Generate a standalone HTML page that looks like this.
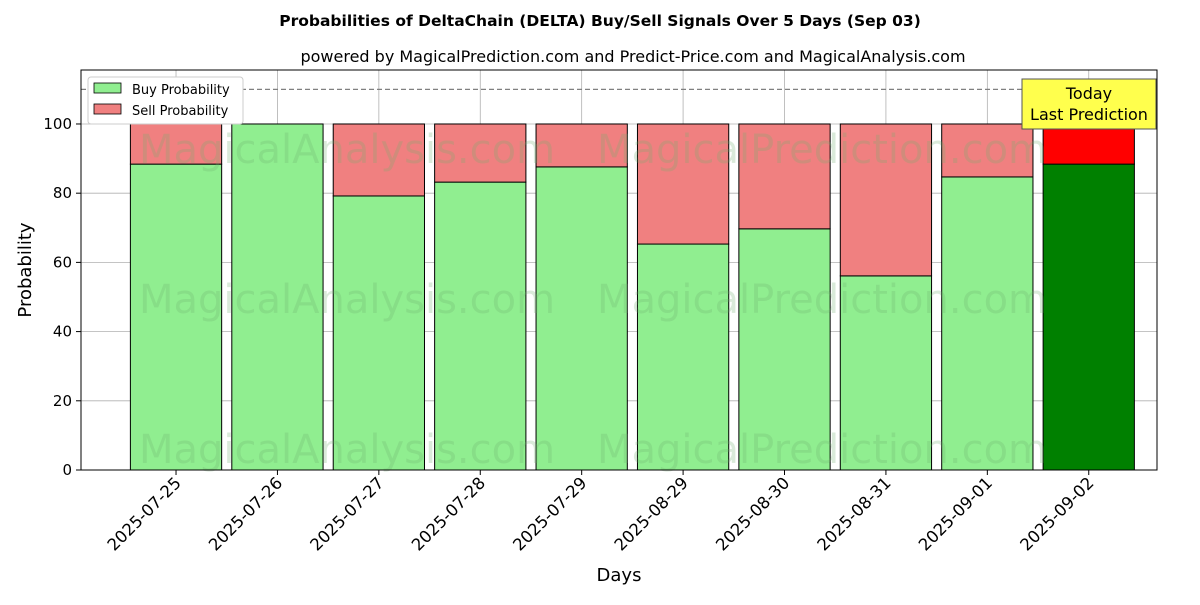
<!DOCTYPE html>
<html><head><meta charset="utf-8"><style>
body{margin:0;background:#fff;}
svg text{font-family:"DejaVu Sans","Liberation Sans",sans-serif;}
</style></head><body>
<svg id="chart" width="1200" height="600" xmlns="http://www.w3.org/2000/svg">
<rect width="1200" height="600" fill="#fff"/>
<text x="600" y="26" text-anchor="middle" font-size="15.5" font-weight="bold">Probabilities of DeltaChain (DELTA) Buy/Sell Signals Over 5 Days (Sep 03)</text>
<text x="633" y="62" text-anchor="middle" font-size="16">powered by MagicalPrediction.com and Predict-Price.com and MagicalAnalysis.com</text>
<g id="grid"></g>
<g id="bars"></g>
<g id="wm" fill="#70b070" opacity="0.25" font-size="40">
<text x="347" y="163" text-anchor="middle">MagicalAnalysis.com</text>
<text x="822" y="163" text-anchor="middle">MagicalPrediction.com</text>
<text x="347" y="313" text-anchor="middle">MagicalAnalysis.com</text>
<text x="822" y="313" text-anchor="middle">MagicalPrediction.com</text>
<text x="347" y="463" text-anchor="middle">MagicalAnalysis.com</text>
<text x="822" y="463" text-anchor="middle">MagicalPrediction.com</text>
</g>
<line id="thr" x1="81" x2="1157" stroke="#808080" stroke-width="1.2" stroke-dasharray="5,3"/>
<g id="axes"></g>
<rect x="81" y="70" width="1076" height="400" fill="none" stroke="#000" stroke-width="1"/>
<g>
<rect x="88" y="77" width="155" height="47" fill="#fff" stroke="#ccc" rx="3"/>
<rect x="94" y="83" width="27" height="10" fill="#90ee90" stroke="#000" stroke-width="0.8"/>
<text x="132" y="94" font-size="13">Buy Probability</text>
<rect x="94" y="104" width="27" height="10" fill="#f08080" stroke="#000" stroke-width="0.8"/>
<text x="132" y="115" font-size="13">Sell Probability</text>
</g>
<g>
<rect x="1022" y="79" width="134" height="50" fill="#ffff4d" stroke="#555"/>
<text x="1089" y="99" text-anchor="middle" font-size="16">Today</text>
<text x="1089" y="120" text-anchor="middle" font-size="16">Last Prediction</text>
</g>
<text transform="translate(31,270) rotate(-90)" text-anchor="middle" font-size="18">Probability</text>
<text x="619" y="581" text-anchor="middle" font-size="18">Days</text>
</svg>
<script>
const categories=["2025-07-25","2025-07-26","2025-07-27","2025-07-28","2025-07-29","2025-08-29","2025-08-30","2025-08-31","2025-09-01","2025-09-02"];
const buyValues=[88.4,100,79.2,83.2,87.6,65.3,69.7,56.1,84.7,88.4];
const sellValues=[11.6,0,20.8,16.8,12.4,34.7,30.3,43.9,15.3,11.6];
const yTicks=[0,20,40,60,80,100];
const threshold=110;
const NS="http://www.w3.org/2000/svg";
const L=81,R=1157,T=70,B=470,yMax=115.6;
const y=v=>B-v/yMax*(B-T);
const xStep=(R-L)/10.61;
const x=i=>L+(i+0.937)*xStep;
const bw=0.9*xStep;
function mk(tag,attrs,parent){const e=document.createElementNS(NS,tag);for(const k in attrs)e.setAttribute(k,attrs[k]);parent.appendChild(e);return e;}
const grid=document.getElementById('grid'),bars=document.getElementById('bars'),axes=document.getElementById('axes');
document.getElementById('thr').setAttribute('y1',y(threshold));
document.getElementById('thr').setAttribute('y2',y(threshold));
yTicks.forEach(t=>{
 const g=mk('line',{x1:L,x2:R,y1:y(t),y2:y(t),stroke:'#b0b0b0','stroke-width':0.8},grid);
 
 
 const tk=mk('line',{x1:L-5,x2:L,y1:y(t),y2:y(t),stroke:'#000'},axes);
 
 
 const tx=mk('text',{x:L-9,y:y(t)+5,'text-anchor':'end','font-size':15},axes);
 
 
 tx.textContent=t;
});
categories.forEach((c,i)=>{
 const cx=x(i);
 const g=mk('line',{x1:cx,x2:cx,y1:T,y2:B,stroke:'#b0b0b0','stroke-width':0.8},grid);
 
 
 const last=i===categories.length-1;
 const b=mk('rect',{x:cx-bw/2,y:y(buyValues[i]),width:bw,height:y(0)-y(buyValues[i]),fill:last?'#008000':'#90ee90',stroke:'#000','stroke-width':1},bars);
 
 
 const s=mk('rect',{x:cx-bw/2,y:y(buyValues[i]+sellValues[i]),width:bw,height:y(buyValues[i])-y(buyValues[i]+sellValues[i]),fill:last?'#ff0000':'#f08080',stroke:'#000','stroke-width':1},bars);
 
 
 const tk=mk('line',{x1:cx,x2:cx,y1:B,y2:B+5,stroke:'#000'},axes);
 
 
 const tx=mk('text',{transform:`translate(${cx+6},${B+14}) rotate(-45)`,'text-anchor':'end','font-size':16.5},axes);
 
 
 tx.textContent=c;
});
</script>
</body></html>
